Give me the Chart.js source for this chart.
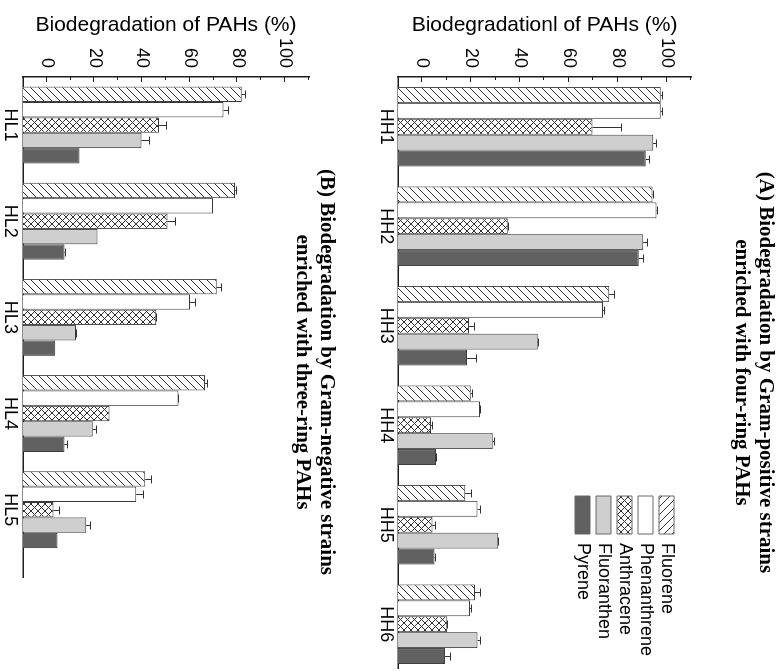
<!DOCTYPE html>
<html>
<head>
<meta charset="utf-8">
<script src="https://cdn.jsdelivr.net/npm/chart.js@4.4.1/dist/chart.umd.min.js"></script>
<style>
  html, body { margin: 0; padding: 0; width: 782px; height: 671px; overflow: hidden; background: #fff; }
  #stage { position: absolute; left: 0; top: 0; width: 782px; height: 671px; overflow: hidden; background: #fff; }
  #rot { position: absolute; left: 0; top: 0; width: 671px; height: 782px;
         transform-origin: 0 0; transform: translate(782px, 0) rotate(90deg); }
  #chartA { position: absolute; left: 0; top: 0; }
  #chartB { position: absolute; left: 0; top: 415px; }
</style>
</head>
<body>
<div id="stage">
  <div id="rot">
    <canvas id="chartA" width="671" height="415"></canvas>
    <canvas id="chartB" width="744" height="367"></canvas>
  </div>
</div>
<script>
// ---------------- data ----------------
const seriesNames = ['Fluorene', 'Phenanthrene', 'Anthracene', 'Fluoranthen', 'Pyrene'];

const labelsA = ['HH1', 'HH2', 'HH3', 'HH4', 'HH5', 'HH6'];
const fluoreneA     = [97.6, 94.2, 76.5, 19.8, 17.5, 21.5];
const phenanthreneA = [97.6, 95.9, 74.0, 23.6, 22.6, 19.5];
const anthraceneA   = [69.7, 34.9, 19.1, 3.5, 4.1, 10.2];
const fluoranthenA  = [94.5, 90.4, 47.2, 28.8, 31.1, 22.6];
const pyreneA       = [91.5, 88.6, 18.3, 5.6, 4.9, 9.3];
const errFluoreneA     = [1.0, 0.7, 2.3, 0.8, 2.7, 2.5];
const errPhenanthreneA = [1.0, 0.7, 0.7, 0.4, 1.2, 0.7];
const errAnthraceneA   = [11.9, 0.7, 2.5, 1.0, 1.5, 0.4];
const errFluoranthenA  = [1.4, 2.0, 0.7, 1.0, 0.4, 1.4];
const errPyreneA       = [1.9, 2.2, 4.2, 0.3, 0.7, 2.3];

const labelsB = ['HL1', 'HL2', 'HL3', 'HL4', 'HL5'];
const fluoreneB     = [81.8, 79.0, 71.3, 66.4, 41.3];
const phenanthreneB = [74.1, 69.7, 60.1, 55.2, 37.5];
const anthraceneB   = [47.1, 50.6, 45.9, 26.3, 2.8];
const fluoranthenB  = [39.7, 21.3, 12.2, 19.3, 16.5];
const pyreneB       = [13.7, 7.4, 3.5, 7.4, 4.5];
const errFluoreneB     = [1.7, 0.7, 2.4, 1.4, 2.8];
const errPhenanthreneB = [2.5, 0, 2.5, 0.4, 3.1];
const errAnthraceneB   = [3.2, 3.6, 0.5, 0, 2.8];
const errFluoranthenB  = [3.4, 0, 0.4, 1.7, 2.0];
const errPyreneB       = [0, 0.7, 0, 1.4, 0];

const valueTicks = [0, 20, 40, 60, 80, 100];
const minorValueTicks = [10, 30, 50, 70, 90, 110];

const titleA = ['(A) Biodegradation by Gram-positive strains', 'enriched with four-ring PAHs'];
const titleB = ['(B) Biodegradation by Gram-negative strains', 'enriched with three-ring PAHs'];
const axisTitleA = 'Biodegradationl of PAHs (%)';
const axisTitleB = 'Biodegradation of PAHs (%)';

// ---------------- styles ----------------
const SANS = "'Liberation Sans', Arial, sans-serif";
const SERIF = "'Liberation Serif', 'Times New Roman', serif";
Chart.defaults.font.family = SANS;
Chart.defaults.color = '#000';

function makePattern(size, dirs, lineColor) {
  const c = document.createElement('canvas');
  c.width = size; c.height = size;
  const g = c.getContext('2d');
  g.fillStyle = '#ffffff';
  g.fillRect(0, 0, size, size);
  g.strokeStyle = lineColor;
  g.lineWidth = 1;
  g.beginPath();
  dirs.forEach(d => {
    for (let k = -1; k <= 1; k++) {
      if (d === '/') { g.moveTo(k * size - 1, size + 1); g.lineTo(k * size + size + 1, -1); }
      else { g.moveTo(k * size - 1, -1); g.lineTo(k * size + size + 1, size + 1); }
    }
  });
  g.stroke();
  return g.createPattern(c, 'repeat');
}

const hatchFwd = makePattern(8, ['/'], '#303030');
const hatchBack = makePattern(8, ['\\'], '#303030');
const crossHatch = makePattern(7, ['/', '\\'], '#303030');

const fills = [hatchFwd, '#ffffff', crossHatch, '#cfcfcf', '#616161'];
const legendFills = [hatchBack, '#ffffff', crossHatch, '#cfcfcf', '#616161'];

function buildDatasets(seriesList) {
  return seriesList.map((vals, i) => ({
    label: seriesNames[i],
    data: vals.map((v, j) => ({ x: j + 1, y: v })),
    base: -10,
    backgroundColor: fills[i],
    borderColor: '#3a3a3a',
    borderWidth: 1,
    categoryPercentage: 0.8,
    barPercentage: 1.0
  }));
}

function xScale(maxVal, labels, pad, h) {
  return {
    type: 'linear',
    min: 0.5,
    max: maxVal,
    offset: false,
    afterBuildTicks: s => { s.ticks = labels.map((_, i) => ({ value: i + 1 })); },
    afterFit: s => { s.height = h; },
    ticks: {
      callback: v => labels[Math.round(v) - 1],
      autoSkip: false, maxRotation: 0, minRotation: 0,
      padding: pad,
      font: { size: 18, family: SANS },
      color: '#000'
    },
    grid: { display: false, drawTicks: false },
    border: { display: true, color: '#1e1e1e', width: 1.5 }
  };
}

function yScale(titleText) {
  return {
    type: 'linear',
    position: 'left',
    min: -10,
    max: 110,
    afterBuildTicks: s => { s.ticks = valueTicks.map(v => ({ value: v })); },
    afterFit: s => { s.width = 77; },
    ticks: { padding: 9, font: { size: 18, family: SANS }, color: '#000' },
    grid: { display: false, drawTicks: false },
    border: { display: true, color: '#1e1e1e', width: 1.5 },
    title: {
      display: true, text: titleText, color: '#000',
      font: { size: 21, family: SANS }, padding: { top: 12.4, bottom: 0 }
    }
  };
}

const axisTickPlugin = {
  id: 'axisTicks',
  afterDraw(chart) {
    const ys = chart.scales.y, a = chart.chartArea, ctx = chart.ctx;
    ctx.save();
    ctx.strokeStyle = '#1e1e1e';
    ctx.lineWidth = 1;
    ctx.beginPath();
    valueTicks.forEach(v => {
      const p = Math.round(ys.getPixelForValue(v)) + 0.5;
      ctx.moveTo(a.left, p); ctx.lineTo(a.left + 5, p);
    });
    minorValueTicks.forEach(v => {
      const p = Math.round(ys.getPixelForValue(v)) + 0.5;
      ctx.moveTo(a.left, p); ctx.lineTo(a.left + 3, p);
    });
    ctx.stroke();
    ctx.restore();
  }
};

function errPlugin(errSets) {
  return {
    id: 'errbars',
    afterDatasetsDraw(chart) {
      const ys = chart.scales.y, ctx = chart.ctx;
      ctx.save();
      ctx.strokeStyle = '#333';
      ctx.lineWidth = 1;
      chart.data.datasets.forEach((ds, di) => {
        const meta = chart.getDatasetMeta(di);
        meta.data.forEach((bar, j) => {
          const e = errSets[di][j];
          if (!e) return;
          const v = ds.data[j].y;
          const x = Math.round(bar.x) + 0.5;
          const y1 = Math.round(ys.getPixelForValue(v + e)) + 0.5;
          ctx.beginPath();
          ctx.moveTo(x, bar.y); ctx.lineTo(x, y1);
          ctx.moveTo(x - 4, y1); ctx.lineTo(x + 4, y1);
          ctx.stroke();
        });
      });
      ctx.restore();
    }
  };
}

const legendOffset = { left: 416, top: 12.5 };
const legendPlacePlugin = {
  id: 'legendPlace',
  afterLayout(chart) {
    const lg = chart.legend, a = chart.chartArea;
    if (!lg) return;
    lg.left = a.left + legendOffset.left;
    lg.top = a.top + legendOffset.top;
    lg.width = 200; lg.height = 200;
    lg.right = lg.left + 200; lg.bottom = lg.top + 200;
  }
};

// ---------------- panel A ----------------
new Chart(document.getElementById('chartA'), {
  type: 'bar',
  data: { datasets: buildDatasets([fluoreneA, phenanthreneA, anthraceneA, fluoranthenA, pyreneA]) },
  options: {
    responsive: false, animation: false, devicePixelRatio: 1,
    layout: { padding: { left: 0, top: 0, right: 3, bottom: 0 } },
    scales: { x: xScale(6.44, labelsA, 1, 31), y: yScale(axisTitleA) },
    plugins: {
      title: {
        display: true, text: titleA, fullSize: false, color: '#000',
        font: { family: SERIF, weight: 'bold', size: 21, lineHeight: '24px' },
        padding: { top: 5, bottom: 38 }
      },
      legend: {
        display: true, position: 'chartArea', align: 'start',
        labels: {
          boxWidth: 38, boxHeight: 15, padding: 3, color: '#000',
          font: { size: 18, family: SANS },
          generateLabels(chart) {
            const items = Chart.defaults.plugins.legend.labels.generateLabels(chart);
            items.forEach((it, i) => { it.fillStyle = legendFills[i]; it.strokeStyle = '#666'; it.lineWidth = 1; });
            return items;
          }
        }
      },
      tooltip: { enabled: false }
    }
  },
  plugins: [errPlugin([errFluoreneA, errPhenanthreneA, errAnthraceneA, errFluoranthenA, errPyreneA]), axisTickPlugin, legendPlacePlugin]
});

// ---------------- panel B ----------------
new Chart(document.getElementById('chartB'), {
  type: 'bar',
  data: { datasets: buildDatasets([fluoreneB, phenanthreneB, anthraceneB, fluoranthenB, pyreneB]) },
  options: {
    responsive: false, animation: false, devicePixelRatio: 1,
    layout: { padding: 0 },
    scales: {
      x: xScale(5.7, labelsB, 2, 23),
      y: yScale(axisTitleB),
      y2: {
        type: 'linear', position: 'right', display: true,
        grid: { display: false, drawTicks: false },
        border: { display: false },
        ticks: { display: false },
        afterFit: s => { s.width = 167; }
      }
    },
    plugins: {
      title: {
        display: true, text: titleB, color: '#000',
        font: { family: SERIF, weight: 'bold', size: 21, lineHeight: '24px' },
        padding: { top: 29, bottom: -19 }
      },
      legend: { display: false },
      tooltip: { enabled: false }
    }
  },
  plugins: [errPlugin([errFluoreneB, errPhenanthreneB, errAnthraceneB, errFluoranthenB, errPyreneB]), axisTickPlugin]
});
</script>
</body>
</html>
